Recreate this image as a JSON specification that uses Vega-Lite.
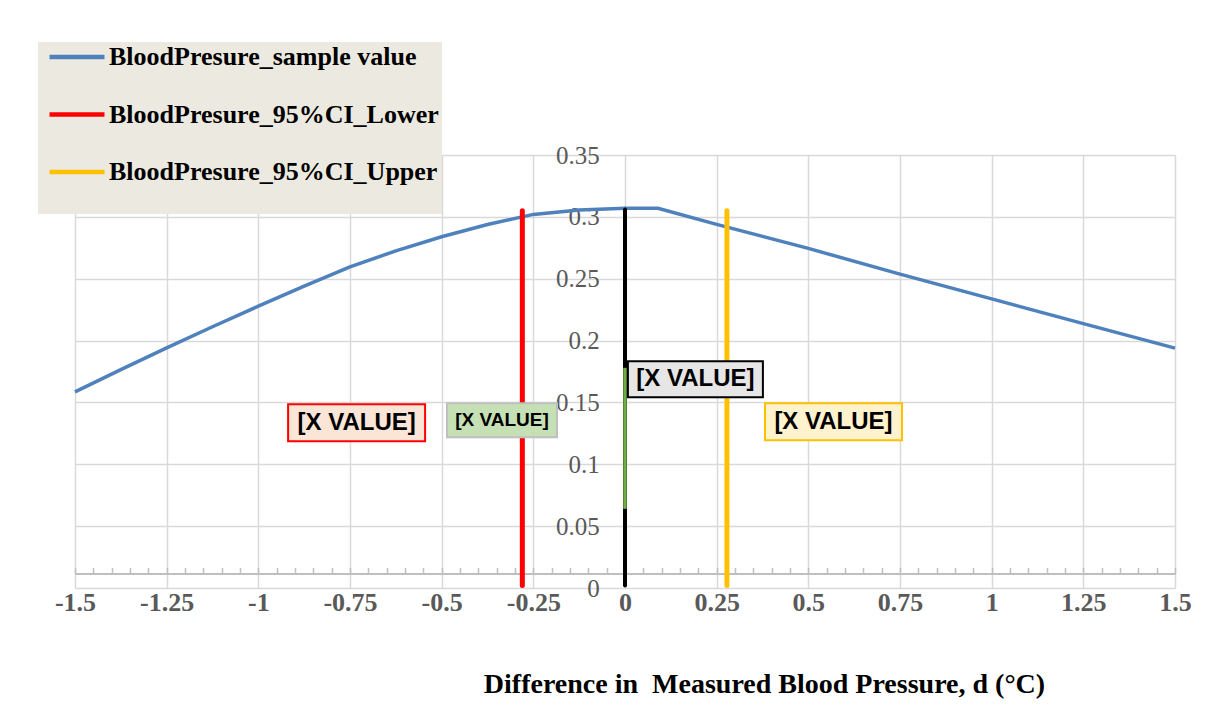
{
  "$schema": "https://vega.github.io/schema/vega-lite/v6.json",
  "autosize": "none",
  "width": 1100,
  "height": 433,
  "padding": {"left": 75, "top": 155, "right": 31, "bottom": 125},
  "background": "white",
  "config": {"view": {"stroke": null}, "font": "Liberation Serif"},
  "datasets": {
    "curve": [
      {"series": "BloodPresure_sample value", "d": -1.5, "p": 0.1585},
      {"series": "BloodPresure_sample value", "d": -1.375, "p": 0.1765},
      {"series": "BloodPresure_sample value", "d": -1.25, "p": 0.1941},
      {"series": "BloodPresure_sample value", "d": -1.125, "p": 0.2112},
      {"series": "BloodPresure_sample value", "d": -1.0, "p": 0.2278},
      {"series": "BloodPresure_sample value", "d": -0.875, "p": 0.244},
      {"series": "BloodPresure_sample value", "d": -0.75, "p": 0.2596},
      {"series": "BloodPresure_sample value", "d": -0.625, "p": 0.2725},
      {"series": "BloodPresure_sample value", "d": -0.5, "p": 0.2839},
      {"series": "BloodPresure_sample value", "d": -0.375, "p": 0.2938},
      {"series": "BloodPresure_sample value", "d": -0.25, "p": 0.302},
      {"series": "BloodPresure_sample value", "d": -0.125, "p": 0.3055},
      {"series": "BloodPresure_sample value", "d": 0.0, "p": 0.3069},
      {"series": "BloodPresure_sample value", "d": 0.09, "p": 0.3069},
      {"series": "BloodPresure_sample value", "d": 0.25, "p": 0.2939},
      {"series": "BloodPresure_sample value", "d": 0.5, "p": 0.2745},
      {"series": "BloodPresure_sample value", "d": 0.75, "p": 0.2537},
      {"series": "BloodPresure_sample value", "d": 1.0, "p": 0.2337},
      {"series": "BloodPresure_sample value", "d": 1.25, "p": 0.2137},
      {"series": "BloodPresure_sample value", "d": 1.5, "p": 0.1939}
    ],
    "ci": [
      {"series": "BloodPresure_95%CI_Lower", "d": -0.28, "p": 0.002},
      {"series": "BloodPresure_95%CI_Lower", "d": -0.28, "p": 0.305},
      {"series": "BloodPresure_95%CI_Upper", "d": 0.278, "p": 0.002},
      {"series": "BloodPresure_95%CI_Upper", "d": 0.278, "p": 0.305}
    ],
    "mean": [
      {"d": 0, "p": 0.002},
      {"d": 0, "p": 0.306}
    ],
    "meanband": [
      {"d": 0, "p": 0.064},
      {"d": 0, "p": 0.178}
    ],
    "labels": [
      {"kind": "lower", "label": "[X VALUE]", "d": -0.732, "p": 0.1336},
      {"kind": "band", "label": "[X VALUE]", "d": -0.3355, "p": 0.1356},
      {"kind": "mean", "label": "[X VALUE]", "d": 0.192, "p": 0.1688},
      {"kind": "upper", "label": "[X VALUE]", "d": 0.5686, "p": 0.1344}
    ]
  },
  "layer": [
    {
      "data": {"name": "curve"},
      "mark": {"type": "line", "strokeWidth": 3.5, "interpolate": "linear"},
      "encoding": {
        "x": {
          "field": "d", "type": "quantitative",
          "scale": {"domain": [-1.5, 1.5], "nice": false, "zero": false},
          "axis": {
            "orient": "bottom",
            "offset": -14.6,
            "tickCount": 200,
            "values": [-1.5,-1.45,-1.4,-1.35,-1.3,-1.25,-1.2,-1.15,-1.1,-1.05,-1,-0.95,-0.9,-0.85,-0.8,-0.75,-0.7,-0.65,-0.6,-0.55,-0.5,-0.45,-0.4,-0.35,-0.3,-0.25,-0.2,-0.15,-0.1,-0.05,0,0.05,0.1,0.15,0.2,0.25,0.3,0.35,0.4,0.45,0.5,0.55,0.6,0.65,0.7,0.75,0.8,0.85,0.9,0.95,1,1.05,1.1,1.15,1.2,1.25,1.3,1.35,1.4,1.45,1.5],
            "labelExpr": "abs(datum.value*4 - round(datum.value*4)) < 0.001 ? '' + datum.value : ''",
            "labelFlush": false,
            "labelOverlap": false,
            "labelFont": "Liberation Serif",
            "labelFontWeight": "bold",
            "labelFontSize": 26,
            "labelColor": "#595959",
            "labelPadding": 22,
            "domainColor": "#BFBFBF",
            "domainWidth": 2,
            "tickColor": "#BFBFBF",
            "tickWidth": 1.5,
            "tickSize": -6,
            "grid": true,
            "gridColor": "#D9D9D9",
            "gridWidth": 1.5,
            "gridOpacity": {"condition": {"test": "abs(datum.value*4 - round(datum.value*4)) < 0.001", "value": 1}, "value": 0},
            "title": "Difference in\u00a0 Measured Blood Pressure, d (°C)",
            "titleFont": "Liberation Serif",
            "titleFontWeight": "bold",
            "titleFontSize": 28,
            "titleColor": "black",
            "titleX": 689,
            "titleY": 111,
            "titleAlign": "center",
            "titleBaseline": "middle"
          }
        },
        "y": {
          "field": "p", "type": "quantitative",
          "scale": {"domain": [0, 0.35], "nice": false},
          "axis": {
            "orient": "left",
            "offset": -549.3,
            "tickCount": 20,
            "values": [0, 0.05, 0.1, 0.15, 0.2, 0.25, 0.3, 0.35],
            "labelExpr": "'' + datum.value",
            "labelFont": "Liberation Serif",
            "labelFontSize": 25,
            "labelColor": "#595959",
            "labelPadding": 25,
            "ticks": false,
            "domain": false,
            "grid": true,
            "gridColor": "#D9D9D9",
            "gridWidth": 1.5,
            "title": null
          }
        },
        "color": {
          "field": "series", "type": "nominal",
          "scale": {
            "domain": ["BloodPresure_sample value", "BloodPresure_95%CI_Lower", "BloodPresure_95%CI_Upper"],
            "range": ["#4F81BD", "#FF0000", "#FFC000"]
          },
          "legend": {
            "orient": "none",
            "legendX": -37,
            "legendY": -113,
            "fillColor": "#ECEAE0",
            "padding": 3,
            "symbolType": "stroke",
            "symbolSize": 3025,
            "symbolStrokeWidth": 4.5,
            "symbolOffset": 6,
            "clipHeight": 24,
            "rowPadding": 31.5,
            "labelOffset": 2,
            "labelFont": "Liberation Serif",
            "labelFontWeight": "bold",
            "labelFontSize": 26,
            "labelColor": "black",
            "labelLimit": 500,
            "title": "\u00a0",
            "titleOrient": "bottom",
            "titleFontSize": 10,
            "titlePadding": 16
          }
        }
      }
    },
    {
      "data": {"name": "ci"},
      "mark": {"type": "line", "strokeWidth": 5, "strokeCap": "round"},
      "encoding": {
        "x": {"field": "d", "type": "quantitative"},
        "y": {"field": "p", "type": "quantitative"},
        "color": {"field": "series", "type": "nominal"}
      }
    },
    {
      "data": {"name": "mean"},
      "mark": {"type": "line", "strokeWidth": 4, "strokeCap": "round", "color": "black"},
      "encoding": {
        "x": {"field": "d", "type": "quantitative"},
        "y": {"field": "p", "type": "quantitative"}
      }
    },
    {
      "data": {"name": "meanband"},
      "mark": {"type": "line", "strokeWidth": 3.5, "color": "#70AD47"},
      "encoding": {
        "x": {"field": "d", "type": "quantitative"},
        "y": {"field": "p", "type": "quantitative"}
      }
    },
    {
      "data": {"name": "labels"},
      "transform": [{"filter": "datum.kind === 'lower'"}],
      "layer": [
        {"mark": {"type": "point", "shape": "M-1,-0.27H1V0.27H-1Z", "size": 18769, "filled": true, "fill": "#FBE5D6", "stroke": "#FF0000", "strokeWidth": 2, "opacity": 1}},
        {"mark": {"type": "text", "font": "Liberation Sans", "fontWeight": "bold", "fontSize": 24, "color": "black", "align": "center", "baseline": "middle"}, "encoding": {"text": {"field": "label"}}}
      ],
      "encoding": {
        "x": {"field": "d", "type": "quantitative"},
        "y": {"field": "p", "type": "quantitative"}
      }
    },
    {
      "data": {"name": "labels"},
      "transform": [{"filter": "datum.kind === 'band'"}],
      "layer": [
        {"mark": {"type": "point", "shape": "M-1,-0.31H1V0.31H-1Z", "size": 12100, "filled": true, "fill": "#C5E0B4", "stroke": "#BFBFBF", "strokeWidth": 2, "opacity": 1}},
        {"mark": {"type": "text", "font": "Liberation Sans", "fontWeight": "bold", "fontSize": 19, "color": "black", "align": "center", "baseline": "middle"}, "encoding": {"text": {"field": "label"}}}
      ],
      "encoding": {
        "x": {"field": "d", "type": "quantitative"},
        "y": {"field": "p", "type": "quantitative"}
      }
    },
    {
      "data": {"name": "labels"},
      "transform": [{"filter": "datum.kind === 'mean'"}],
      "layer": [
        {"mark": {"type": "point", "shape": "M-1,-0.267H1V0.267H-1Z", "size": 18225, "filled": true, "fill": "#E7E6E6", "stroke": "black", "strokeWidth": 2, "opacity": 1}},
        {"mark": {"type": "text", "font": "Liberation Sans", "fontWeight": "bold", "fontSize": 24, "color": "black", "align": "center", "baseline": "middle"}, "encoding": {"text": {"field": "label"}}}
      ],
      "encoding": {
        "x": {"field": "d", "type": "quantitative"},
        "y": {"field": "p", "type": "quantitative"}
      }
    },
    {
      "data": {"name": "labels"},
      "transform": [{"filter": "datum.kind === 'upper'"}],
      "layer": [
        {"mark": {"type": "point", "shape": "M-1,-0.27H1V0.27H-1Z", "size": 18769, "filled": true, "fill": "#FFF2CC", "stroke": "#FFC000", "strokeWidth": 2, "opacity": 1}},
        {"mark": {"type": "text", "font": "Liberation Sans", "fontWeight": "bold", "fontSize": 24, "color": "black", "align": "center", "baseline": "middle"}, "encoding": {"text": {"field": "label"}}}
      ],
      "encoding": {
        "x": {"field": "d", "type": "quantitative"},
        "y": {"field": "p", "type": "quantitative"}
      }
    }
  ]
}
